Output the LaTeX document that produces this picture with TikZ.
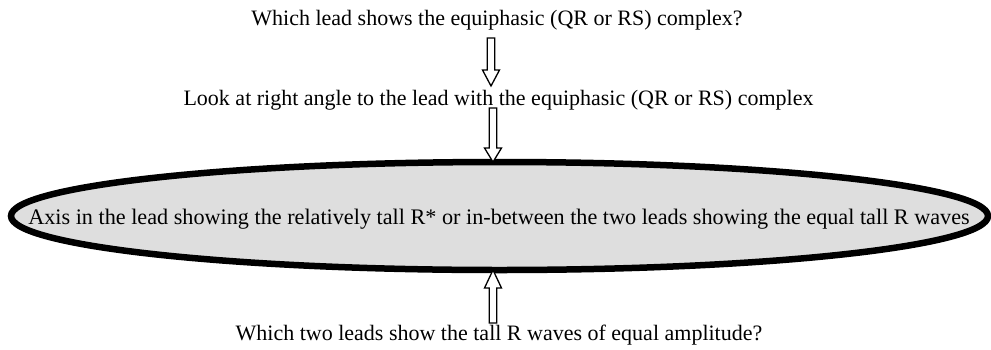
\documentclass[tikz,border=0pt]{standalone}
\usepackage{fontspec}
\setmainfont{Liberation Serif}
\usetikzlibrary{calc,shapes.geometric}
\tikzset{
  txt/.style={inner sep=0pt, font=\fontsize{22}{26}\selectfont, anchor=base},
  bigtxt/.style={txt, font=\fontsize{22.2}{26}\selectfont},
  ellbox/.style={ellipse, draw=black, line width=6.5pt, fill=black!13, minimum width=977pt, minimum height=108pt, inner sep=0pt, outer sep=0pt},
  blockarrow/.style={draw=black, line width=1.3pt, fill=white, line join=miter},
}
\newcommand\blockarr[3]{% tail, tip, head length
  \draw[blockarrow] let \p1=(#1), \p2=(#2), \n1={ifthenelse(\y2>\y1,1,-1)} in
    (\x1-3.8pt,\y1) -- (\x1-3.8pt,\y2-\n1*#3) -- (\x1-8.5pt,\y2-\n1*#3) -- (\x1,\y2)
    -- (\x1+8.5pt,\y2-\n1*#3) -- (\x1+3.8pt,\y2-\n1*#3) -- (\x1+3.8pt,\y1) -- cycle;
}
\begin{document}
\begin{tikzpicture}[x=1pt,y=1pt]
\useasboundingbox (0,0) rectangle (991,-349);
\node[txt] (q1) at (497,-25) {Which lead shows the equiphasic (QR or RS) complex?};
\node[txt] (q2) at (498.5,-105) {Look at right angle to the lead with the equiphasic (QR or RS) complex};
\node[ellbox] (ell) at (499.5,-216) {};
\node[bigtxt] (ax) at (499,-224) {Axis in the lead showing the relatively tall R* or in-between the two leads showing the equal tall R waves};
\node[txt] (q3) at (499,-340) {Which two leads show the tall R waves of equal amplitude?};
\coordinate (a1s) at (491,-38);
\coordinate (a1e) at (491,-86);
\coordinate (a2s) at (493,-108);
\coordinate (a3s) at (493,-323);
\blockarr{a1s}{a1e}{16pt}
\blockarr{a2s}{ell.north}{14pt}
\blockarr{a3s}{ell.south}{18pt}
\end{tikzpicture}
\end{document}
